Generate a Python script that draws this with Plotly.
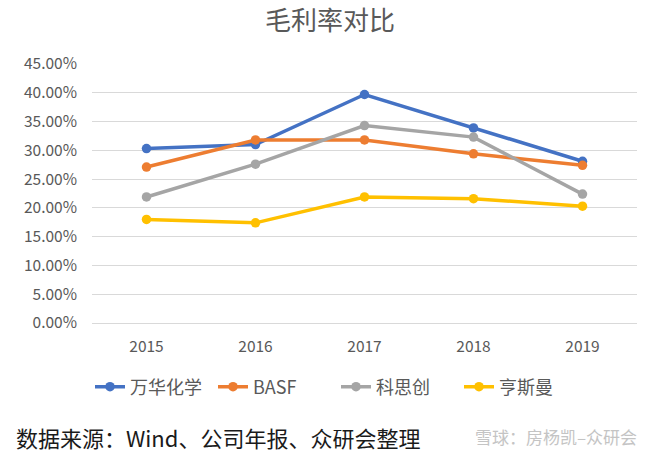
import plotly.graph_objects as go

# dados
anos = ["2015", "2016", "2017", "2018", "2019"]
wanhua = [0.303, 0.310, 0.397, 0.339, 0.281]
basf = [0.271, 0.318, 0.318, 0.294, 0.274]
covestro = [0.219, 0.276, 0.343, 0.323, 0.224]
huntsman = [0.180, 0.174, 0.219, 0.216, 0.203]

SERIES = [
    ("万华化学", wanhua, "#4472C4"),
    ("BASF", basf, "#ED7D31"),
    ("科思创", covestro, "#A5A5A5"),
    ("亨斯曼", huntsman, "#FFC000"),
]

FONT = "'Noto Sans CJK SC', 'Noto Sans', sans-serif"

W, H = 660, 456
L, R, T, B = 92, 23, 64, 133
PW, PH = W - L - R, H - T - B


# pixels da imagem -> coordenadas "paper"
def px_x(x):
    return (x - L) / PW


def px_y(y):
    return (H - B - y) / PH


fig = go.Figure()
for nome, valores, cor in SERIES:
    fig.add_trace(go.Scatter(
        x=anos,
        y=valores,
        name=nome,
        mode="lines+markers",
        line=dict(color=cor, width=3.5),
        marker=dict(color=cor, size=9.5),
        hovertemplate="%{x}<br>" + nome + ": %{y:.2%}<extra></extra>",
    ))

fig.update_layout(
    width=W,
    height=H,
    font=dict(family=FONT, color="#595959", size=15.5),
    paper_bgcolor="white",
    plot_bgcolor="white",
    margin=dict(l=L, r=R, t=T, b=B),
    title=dict(
        text="毛利率对比",
        x=0.5, xanchor="center",
        y=1 - 21 / H, yanchor="middle",
        font=dict(size=26, color="#595959"),
    ),
    xaxis=dict(
        type="category",
        range=[-0.5, 4.5],
        showgrid=False,
        showline=False,
        ticks="",
        ticklabelstandoff=12,
        tickfont=dict(size=15.5, color="#595959"),
    ),
    yaxis=dict(
        range=[0, 0.45],
        dtick=0.05,
        tickformat=".2%",
        showgrid=True,
        gridcolor="#D9D9D9",
        gridwidth=1,
        zeroline=True,
        zerolinecolor="#D9D9D9",
        zerolinewidth=1,
        showline=False,
        ticks="",
        ticklabelstandoff=14,
        tickfont=dict(size=15.5, color="#595959"),
    ),
    legend=dict(
        orientation="h",
        x=px_x(336), xanchor="center",
        y=px_y(387), yanchor="middle",
        font=dict(size=18, color="#595959"),
        entrywidth=78,
        entrywidthmode="pixels",
    ),
    showlegend=True,
)

# fonte e marca d'água
fig.add_annotation(
    text="数据来源：Wind、公司年报、众研会整理",
    xref="paper", yref="paper",
    x=px_x(14), y=px_y(437),
    xanchor="left", yanchor="middle",
    showarrow=False,
    font=dict(size=22, color="#1A1A1A"),
)
fig.add_annotation(
    text="雪球：房杨凯–众研会",
    xref="paper", yref="paper",
    x=px_x(639), y=px_y(436),
    xanchor="right", yanchor="middle",
    showarrow=False,
    font=dict(size=17, color="#C4C4C4"),
)

# tira a margem padrão do body para a figura ocupar a janela inteira
fig.write_html(
    "out.html",
    config={"displayModeBar": False},
    post_script="document.body.style.margin='0px';",
)
